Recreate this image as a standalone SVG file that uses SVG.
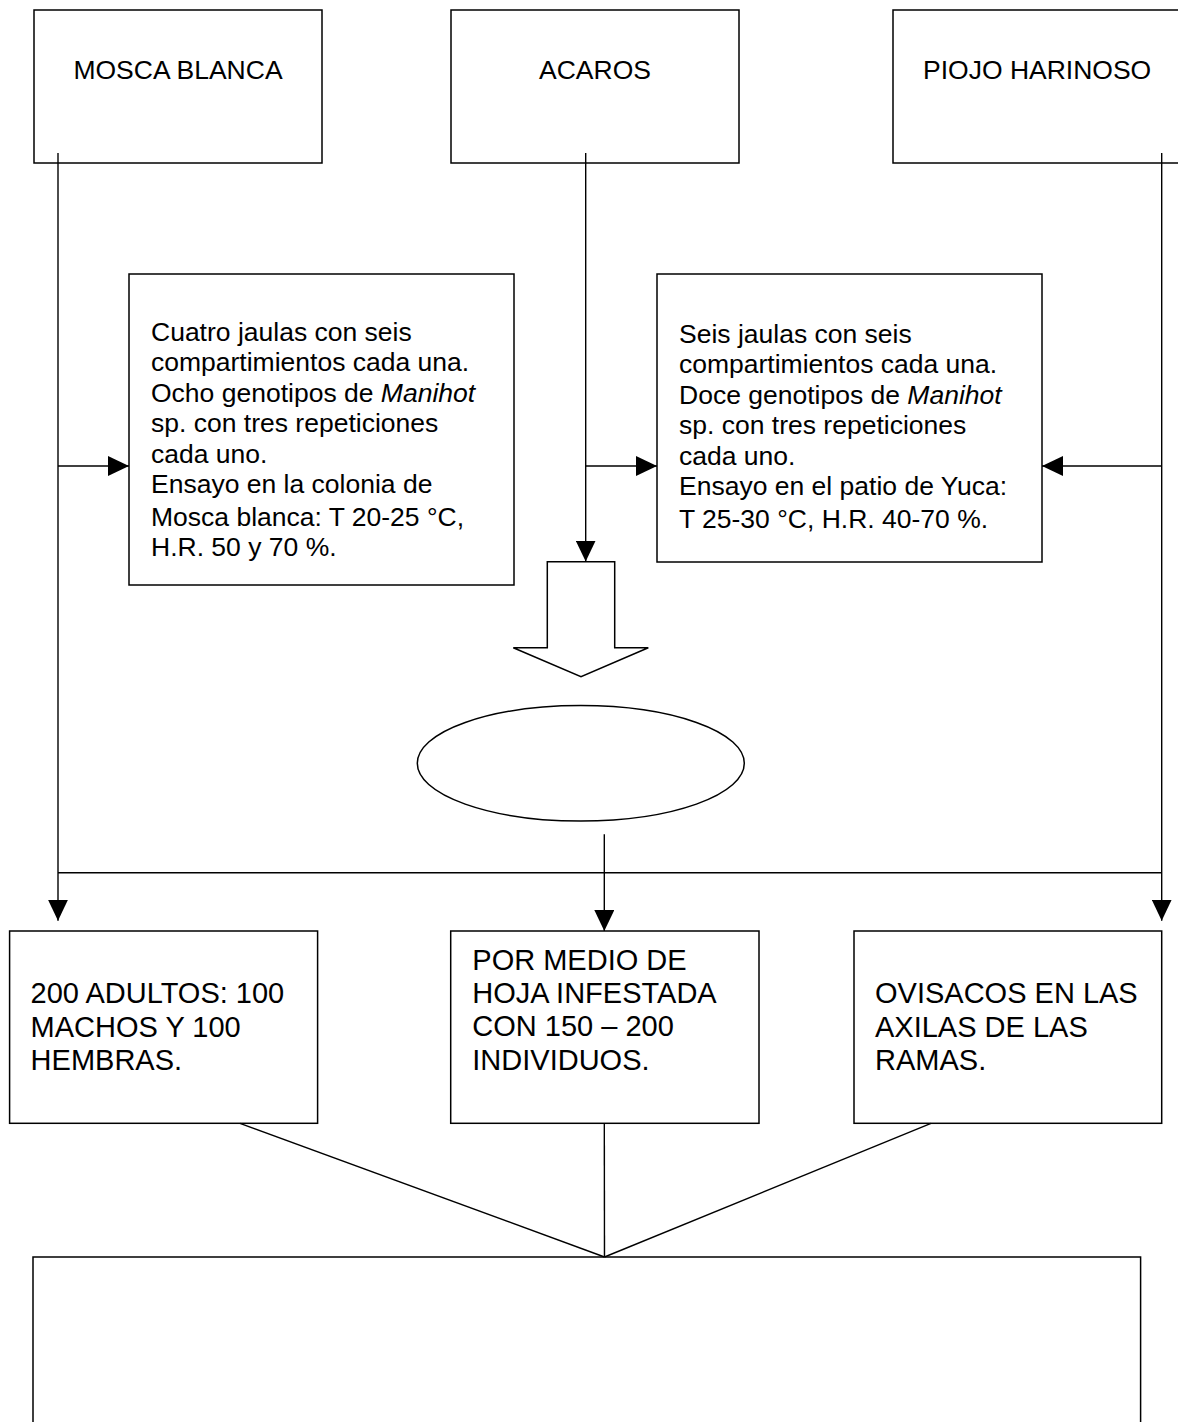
<svg xmlns="http://www.w3.org/2000/svg" width="1178" height="1422" viewBox="0 0 1178 1422">
<style>
.box{fill:#fff;stroke:#000;stroke-width:1.5}
.ln{fill:none;stroke:#000;stroke-width:1.4}
.t{font-family:"Liberation Sans",Arial,sans-serif;font-size:26.5px;fill:#000}
.tb{font-family:"Liberation Sans",Arial,sans-serif;font-size:29px;fill:#000}
</style>
<defs>
<marker id="ah" markerUnits="userSpaceOnUse" markerWidth="21" markerHeight="20" refX="21" refY="10" orient="auto" viewBox="0 0 21 20">
<path d="M0,0 L21,10 L0,20 z" fill="#000"/>
</marker>
</defs>
<rect width="1178" height="1422" fill="#fff"/>

<g id="n-mosca">
<rect class="box" x="34" y="10" width="288" height="153"/>
<text class="t" x="178" y="79" text-anchor="middle">MOSCA BLANCA</text>
</g>
<g id="n-acaros">
<rect class="box" x="451" y="10" width="288" height="153"/>
<text class="t" x="595" y="79" text-anchor="middle">ACAROS</text>
</g>
<g id="n-piojo">
<rect class="box" x="893" y="10" width="300" height="153"/>
<text class="t" x="923" y="79">PIOJO HARINOSO</text>
</g>

<g id="n-ensayo-mosca">
<rect class="box" x="129" y="274" width="385" height="311"/>
<text class="t">
<tspan x="151" y="340.5">Cuatro jaulas con seis</tspan>
<tspan x="151" y="371">compartimientos cada una.</tspan>
<tspan x="151" y="401.5">Ocho genotipos de <tspan font-style="italic">Manihot</tspan></tspan>
<tspan x="151" y="432">sp. con tres repeticiones</tspan>
<tspan x="151" y="462.5">cada uno.</tspan>
<tspan x="151" y="493">Ensayo en la colonia de</tspan>
<tspan x="151" y="525.5">Mosca blanca: T 20-25 °C,</tspan>
<tspan x="151" y="556">H.R. 50 y 70 %.</tspan>
</text>
</g>

<g id="n-ensayo-yuca">
<rect class="box" x="657" y="274" width="385" height="288"/>
<text class="t">
<tspan x="679" y="342.5">Seis jaulas con seis</tspan>
<tspan x="679" y="373">compartimientos cada una.</tspan>
<tspan x="679" y="403.5">Doce genotipos de <tspan font-style="italic">Manihot</tspan></tspan>
<tspan x="679" y="434">sp. con tres repeticiones</tspan>
<tspan x="679" y="464.5">cada uno.</tspan>
<tspan x="679" y="495">Ensayo en el patio de Yuca:</tspan>
<tspan x="679" y="528">T 25-30 °C, H.R. 40-70 %.</tspan>
</text>
</g>

<g id="n-block-arrow">
<path class="box" d="M547.3,561.7 L614.7,561.7 L614.7,647.7 L648.3,647.7 L581,676.7 L513.3,647.7 L547.3,647.7 Z"/>
</g>

<g id="n-ellipse">
<ellipse class="box" cx="580.8" cy="763.3" rx="163.5" ry="57.7"/>
</g>

<g id="n-adultos">
<rect class="box" x="9.6" y="931" width="308" height="192.3"/>
<text class="tb">
<tspan x="30.6" y="1003.3">200 ADULTOS: 100</tspan>
<tspan x="30.6" y="1036.7">MACHOS Y 100</tspan>
<tspan x="30.6" y="1070">HEMBRAS.</tspan>
</text>
</g>

<g id="n-hoja">
<rect class="box" x="450.7" y="931" width="308.3" height="192.3"/>
<text class="tb">
<tspan x="472.3" y="969.5">POR MEDIO DE</tspan>
<tspan x="472.3" y="1002.8">HOJA INFESTADA</tspan>
<tspan x="472.3" y="1036.2">CON 150 – 200</tspan>
<tspan x="472.3" y="1069.5">INDIVIDUOS.</tspan>
</text>
</g>

<g id="n-ovisacos">
<rect class="box" x="854" y="931" width="307.7" height="192.3"/>
<text class="tb">
<tspan x="875" y="1003.3">OVISACOS EN LAS</tspan>
<tspan x="875" y="1036.7">AXILAS DE LAS</tspan>
<tspan x="875" y="1070">RAMAS.</tspan>
</text>
</g>

<g id="n-result">
<rect class="box" x="33" y="1257" width="1107.6" height="220"/>
</g>

<g id="connectors">
<line class="ln" x1="58" y1="153" x2="58" y2="920.7" marker-end="url(#ah)"/>
<line class="ln" x1="585.7" y1="153" x2="585.7" y2="561.5" marker-end="url(#ah)"/>
<line class="ln" x1="1161.7" y1="153" x2="1161.7" y2="920.7" marker-end="url(#ah)"/>
<line class="ln" x1="58" y1="466" x2="129" y2="466" marker-end="url(#ah)"/>
<line class="ln" x1="585.7" y1="466" x2="657" y2="466" marker-end="url(#ah)"/>
<line class="ln" x1="1161.7" y1="466" x2="1042" y2="466" marker-end="url(#ah)"/>
<line class="ln" x1="58" y1="872.7" x2="1161.7" y2="872.7"/>
<line class="ln" x1="604.3" y1="834.3" x2="604.3" y2="931" marker-end="url(#ah)"/>
<line class="ln" x1="240" y1="1123.3" x2="604.5" y2="1257"/>
<line class="ln" x1="604.3" y1="1123.3" x2="604.5" y2="1257"/>
<line class="ln" x1="931" y1="1123.3" x2="604.5" y2="1257"/>
</g>
</svg>
